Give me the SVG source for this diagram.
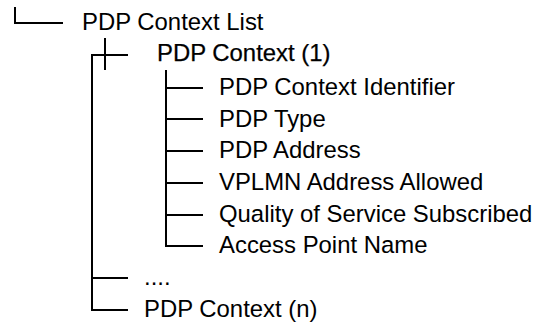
<svg xmlns="http://www.w3.org/2000/svg" width="536" height="329" viewBox="0 0 536 329">
<style>
.t{font-family:"Liberation Sans",Arial,sans-serif;font-size:23.9px;fill:#000}
.b{stroke:#000;stroke-width:0.25}
.c{stroke:#000;stroke-width:2;fill:none}
</style>
<rect width="536" height="329" fill="#fff"/>
<g id="connectors">
<path class="c" d="M15 7V23H63"/>
<path class="c" d="M105 38V70"/>
<path class="c" d="M128 55H92V310H128"/>
<path class="c" d="M92 278H128"/>
<path class="c" d="M166 70V246H203"/>
<path class="c" d="M166 88H203M166 119H203M166 151H203M166 183H203M166 215H203"/>
</g>
<g id="n-list"><text class="t" x="82" y="30">PDP Context List</text></g>
<g id="n-ctx1"><text class="t b" x="157" y="61">PDP Context (1)</text></g>
<g id="n-id"><text class="t" x="219" y="95">PDP Context Identifier</text></g>
<g id="n-type"><text class="t" x="219" y="127">PDP Type</text></g>
<g id="n-addr"><text class="t" x="219" y="158">PDP Address</text></g>
<g id="n-vplmn"><text class="t" x="219" y="190">VPLMN Address Allowed</text></g>
<g id="n-qos"><text class="t" x="219" y="222">Quality of Service Subscribed</text></g>
<g id="n-apn"><text class="t" x="219" y="253">Access Point Name</text></g>
<g id="n-dots"><text class="t" x="144" y="285">....</text></g>
<g id="n-ctxn"><text class="t" x="144" y="317">PDP Context (n)</text></g>
</svg>
